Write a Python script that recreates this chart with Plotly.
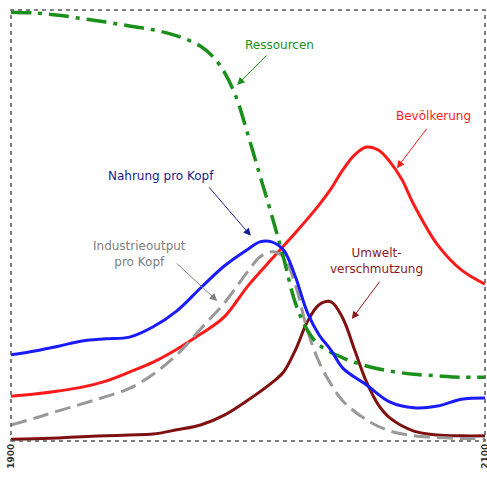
import plotly.graph_objects as go

years_res = [1900, 1910, 1920, 1930, 1940, 1950, 1960, 1970, 1980, 1985, 1990, 1995, 2000, 2005, 2010, 2015, 2020, 2025, 2030, 2040, 2050, 2060, 2070, 2080, 2090, 2100]
ressourcen = [0.995, 0.993, 0.988, 0.980, 0.972, 0.963, 0.954, 0.940, 0.916, 0.893, 0.856, 0.798, 0.710, 0.617, 0.524, 0.425, 0.320, 0.258, 0.223, 0.193, 0.174, 0.162, 0.155, 0.151, 0.148, 0.148]

years_pop = [1900, 1910, 1920, 1930, 1940, 1950, 1960, 1970, 1980, 1990, 2000, 2010, 2020, 2030, 2035, 2040, 2045, 2050, 2055, 2060, 2065, 2070, 2080, 2090, 2100]
bevoelkerung = [0.104, 0.109, 0.116, 0.125, 0.139, 0.160, 0.183, 0.213, 0.248, 0.288, 0.360, 0.422, 0.483, 0.548, 0.585, 0.629, 0.664, 0.682, 0.675, 0.647, 0.606, 0.548, 0.455, 0.397, 0.364]

years_food = [1900, 1910, 1920, 1930, 1940, 1950, 1960, 1970, 1980, 1990, 2000, 2005, 2010, 2015, 2020, 2025, 2030, 2035, 2040, 2050, 2060, 2070, 2080, 2090, 2100]
nahrung = [0.200, 0.209, 0.220, 0.232, 0.237, 0.241, 0.265, 0.302, 0.355, 0.406, 0.445, 0.462, 0.462, 0.443, 0.381, 0.299, 0.246, 0.211, 0.169, 0.130, 0.090, 0.077, 0.081, 0.097, 0.100]

years_ind = [1900, 1910, 1920, 1930, 1940, 1950, 1960, 1970, 1980, 1990, 2000, 2005, 2010, 2015, 2020, 2025, 2030, 2035, 2040, 2050, 2060, 2070, 2080, 2090, 2100]
industrie = [0.037, 0.053, 0.070, 0.086, 0.103, 0.122, 0.155, 0.200, 0.260, 0.320, 0.394, 0.427, 0.439, 0.427, 0.362, 0.258, 0.183, 0.132, 0.093, 0.049, 0.023, 0.012, 0.008, 0.006, 0.006]

years_pol = [1900, 1910, 1920, 1930, 1940, 1950, 1960, 1970, 1980, 1990, 2000, 2010, 2015, 2020, 2025, 2030, 2035, 2040, 2045, 2050, 2055, 2060, 2070, 2080, 2090, 2100]
verschmutzung = [0.004, 0.005, 0.007, 0.010, 0.012, 0.014, 0.016, 0.026, 0.037, 0.060, 0.095, 0.135, 0.160, 0.211, 0.276, 0.316, 0.323, 0.285, 0.211, 0.137, 0.084, 0.053, 0.023, 0.014, 0.012, 0.012]

tick_vals = [1900, 2100]
tick_text = ["<b>1900</b>", "<b>2100</b>"]

C_RES = "#1a8f1a"
C_POP = "#ff1a1a"
C_FOOD = "#1a1aff"
C_IND = "#999999"
C_POL = "#7f1010"

fig = go.Figure()
fig.add_trace(go.Scatter(x=years_pol, y=verschmutzung, mode="lines", line=dict(color=C_POL, width=3, shape="spline", smoothing=1.0)))
fig.add_trace(go.Scatter(x=years_pop, y=bevoelkerung, mode="lines", line=dict(color=C_POP, width=3, shape="spline", smoothing=1.0)))
fig.add_trace(go.Scatter(x=years_ind, y=industrie, mode="lines", line=dict(color=C_IND, width=3, dash="16px,7px", shape="spline", smoothing=1.0)))
fig.add_trace(go.Scatter(x=years_res, y=ressourcen, mode="lines", line=dict(color=C_RES, width=3.5, dash="20px,7px,4px,7px", shape="spline", smoothing=1.0)))
fig.add_trace(go.Scatter(x=years_food, y=nahrung, mode="lines", line=dict(color=C_FOOD, width=3, shape="spline", smoothing=1.0)))

font_lbl = "DejaVu Sans"

def label(text, x, y, color):
    fig.add_annotation(text=text, x=x, y=y, xref="paper", yref="paper", showarrow=False,
                       xanchor="center", yanchor="middle",
                       font=dict(family=font_lbl, size=12, color=color), align="center")

def arrow(x, y, ax, ay, color):
    fig.add_annotation(text="", x=x, y=y, xref="paper", yref="paper", showarrow=True,
                       ax=ax, ay=ay, arrowcolor=color, arrowwidth=1, arrowhead=2, arrowsize=1.5)

label("Ressourcen", 0.567, 0.919, C_RES)
arrow(0.477, 0.826, 31, -31, C_RES)
label("Bevölkerung", 0.892, 0.754, C_POP)
arrow(0.814, 0.633, 31, -41, C_POP)
label("Nahrung pro Kopf", 0.316, 0.615, "#1a1a8c")
arrow(0.506, 0.476, -43, -50, "#1a1a8c")
label("Industrieoutput<br>pro Kopf", 0.272, 0.434, "#808080")
arrow(0.435, 0.325, -42, -39, "#808080")
label("Umwelt-<br>verschmutzung", 0.772, 0.418, "#8b1a1a")
arrow(0.719, 0.283, 29, -39, "#8b1a1a")

fig.add_shape(type="rect", xref="paper", yref="paper", x0=0, y0=0, x1=1, y1=1,
              line=dict(color="#555555", width=1.5, dash="4px,4px"))

fig.update_layout(
    width=487, height=486,
    margin=dict(l=11, r=2, t=10, b=45, autoexpand=False),
    paper_bgcolor="white", plot_bgcolor="white",
    showlegend=False,
    xaxis=dict(range=[1900, 2100], tickvals=tick_vals, ticktext=tick_text, tickangle=-90,
               showgrid=False, zeroline=False, showline=False, ticks="", automargin=False,
               ticklabeloverflow="allow",
               tickfont=dict(family="DejaVu Sans", size=9, color="#333333")),
    yaxis=dict(range=[0, 1], showgrid=False, zeroline=False, showline=False,
               showticklabels=False, ticks="", automargin=False),
)

fig.write_html("out.html", config={"displayModeBar": False},
               post_script="document.body.style.margin='0';document.body.style.overflow='hidden';")
